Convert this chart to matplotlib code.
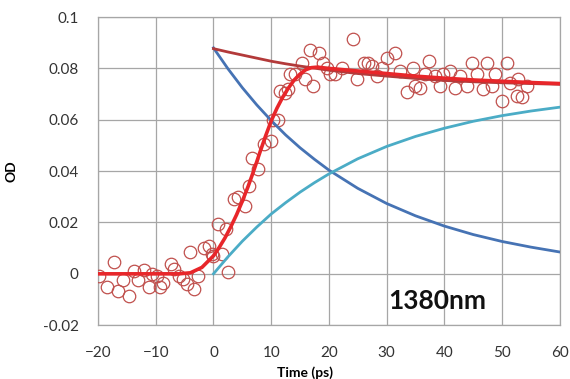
import matplotlib
matplotlib.use("Agg")
import matplotlib.pyplot as plt

plt.rcParams['font.family'] = ['Lato', 'DejaVu Sans']

# Measured data (open circles)
data_t = [-19.9, -18.5, -17.3, -16.6, -15.6, -14.7, -13.8, -13.1, -12.1, -11.2,
          -10.6, -9.7, -9.2, -8.7, -7.3, -6.9, -6.0, -5.2, -4.5, -4.0,
          -3.3, -2.6, -1.6, -0.8, -0.2, 0.0, 0.7, 1.5, 2.2, 2.6,
          3.5, 4.2, 5.4, 6.1, 6.7, 7.8, 8.7, 9.9, 10.4, 11.1,
          11.6, 12.4, 13.0, 13.3, 14.2, 15.4, 15.9, 16.8, 17.3, 18.2,
          18.9, 19.7, 20.2, 21.1, 22.3, 24.2, 24.9, 26.0, 26.8, 27.5,
          28.4, 29.2, 30.1, 31.5, 32.4, 33.6, 34.6, 34.9, 35.8, 36.7,
          37.4, 38.4, 39.3, 39.8, 41.0, 41.9, 42.7, 43.9, 44.8, 45.7,
          46.7, 47.4, 48.3, 48.8, 50.0, 50.9, 51.4, 52.6, 52.8, 53.5, 54.3]
data_od = [-0.0008, -0.005, 0.0047, -0.0066, -0.0023, -0.0086, 0.0012, -0.0023, 0.0016, -0.005,
           0.0, -0.0008, -0.005, -0.0035, 0.004, 0.002, -0.0008, -0.002, -0.004, 0.0086,
           -0.006, -0.0008, 0.010, 0.011, 0.0078, 0.007, 0.0195, 0.0078, 0.0175, 0.0008,
           0.029, 0.030, 0.0265, 0.0343, 0.045, 0.041, 0.0507, 0.0518, 0.060, 0.060,
           0.0713, 0.0705, 0.072, 0.078, 0.078, 0.082, 0.076, 0.087, 0.073, 0.086,
           0.082, 0.080, 0.078, 0.078, 0.080, 0.0916, 0.076, 0.082, 0.082, 0.081,
           0.077, 0.080, 0.084, 0.086, 0.079, 0.071, 0.080, 0.073, 0.0725, 0.078,
           0.083, 0.077, 0.073, 0.078, 0.079, 0.0725, 0.077, 0.073, 0.082, 0.078,
           0.072, 0.082, 0.073, 0.078, 0.0674, 0.082, 0.0745, 0.0694, 0.076, 0.069, 0.073]

# Component curves
comp_t = [0, 2.5, 5, 7.5, 10, 12.5, 15, 17.5, 20, 25, 30, 35, 40, 45, 50, 55, 60]
blue_od = [0.088, 0.0799, 0.0725, 0.0658, 0.0597, 0.0541, 0.0491, 0.0446, 0.0404, 0.0333, 0.0274,
           0.0226, 0.0186, 0.0153, 0.0126, 0.0104, 0.0085]
cyan_od = [0.0, 0.0066, 0.0127, 0.0182, 0.0233, 0.0277, 0.0318, 0.0355, 0.0389, 0.0448, 0.0496,
           0.0535, 0.0567, 0.0594, 0.0616, 0.0634, 0.0649]
brown_od = [0.0877, 0.0864, 0.0852, 0.0840, 0.0828, 0.0818, 0.0809, 0.0801, 0.0793, 0.0780, 0.0770,
            0.0761, 0.0753, 0.0748, 0.0744, 0.0741, 0.0738]

# Overall fit (red)
fit_t = [-20, -15, -10, -6, -4, -2, 0, 1, 2, 3, 4, 5, 6, 7, 8, 9, 10, 11, 12, 13, 14, 15, 16, 17, 18, 20,
         25, 30, 35, 40, 45, 50, 55, 60]
fit_od = [0.0, 0.0, 0.0, 0.0, 0.0004, 0.0025, 0.007, 0.0103, 0.0140, 0.0183, 0.0230, 0.0283, 0.0340,
          0.0403, 0.0470, 0.0535, 0.0595, 0.0645, 0.0688, 0.0724, 0.0755, 0.0778, 0.0795, 0.0803, 0.0805, 0.0800,
          0.0790, 0.0780, 0.0770, 0.0762, 0.0755, 0.0750, 0.0745, 0.0741]

x_ticks = [-20, -10, 0, 10, 20, 30, 40, 50, 60]
y_ticks = [-0.02, 0, 0.02, 0.04, 0.06, 0.08, 0.1]
y_labels = ['-0.02', '0', '0.02', '0.04', '0.06', '0.08', '0.1']

fig = plt.figure(figsize=(5.70, 3.79), dpi=100)
ax = fig.add_axes([0.172, 0.142, 0.810, 0.813])

ax.plot(data_t, data_od, linestyle='none', marker='o', markersize=9,
        markerfacecolor='none', markeredgecolor='#C0504D', markeredgewidth=0.9, zorder=3)
ax.plot(comp_t, blue_od, color='#4673B4', lw=2.0, zorder=4)
ax.plot(comp_t, cyan_od, color='#4BACC6', lw=2.0, zorder=4)
ax.plot(comp_t, brown_od, color='#B33A3A', lw=2.0, zorder=5)
ax.plot(fit_t, fit_od, color='#E8262A', lw=2.6, zorder=6)

ax.set_xlim(-20, 60)
ax.set_ylim(-0.02, 0.1)
ax.set_xticks(x_ticks)
ax.set_yticks(y_ticks)
ax.set_yticklabels(y_labels)
ax.grid(True, color='#A6A6A6', lw=0.9)
ax.set_axisbelow(True)
ax.tick_params(length=0, labelsize=11, colors='#333333')
ax.tick_params(axis='x', pad=15)
ax.tick_params(axis='y', pad=14)
for s in ax.spines.values():
    s.set_color('#A6A6A6')
    s.set_linewidth(0.9)

ax.set_xlabel('Time (ps)', fontsize=10, fontweight='bold', labelpad=1)
ax.xaxis.set_label_coords(0.448, -0.135)
ax.set_ylabel('OD', fontsize=10, fontweight='bold', labelpad=18)
ax.text(38.8, -0.0105, '1380nm', fontsize=19, fontweight='bold', ha='center', va='center',
        color='#111111', zorder=7)

fig.savefig('out.png', dpi=100)
